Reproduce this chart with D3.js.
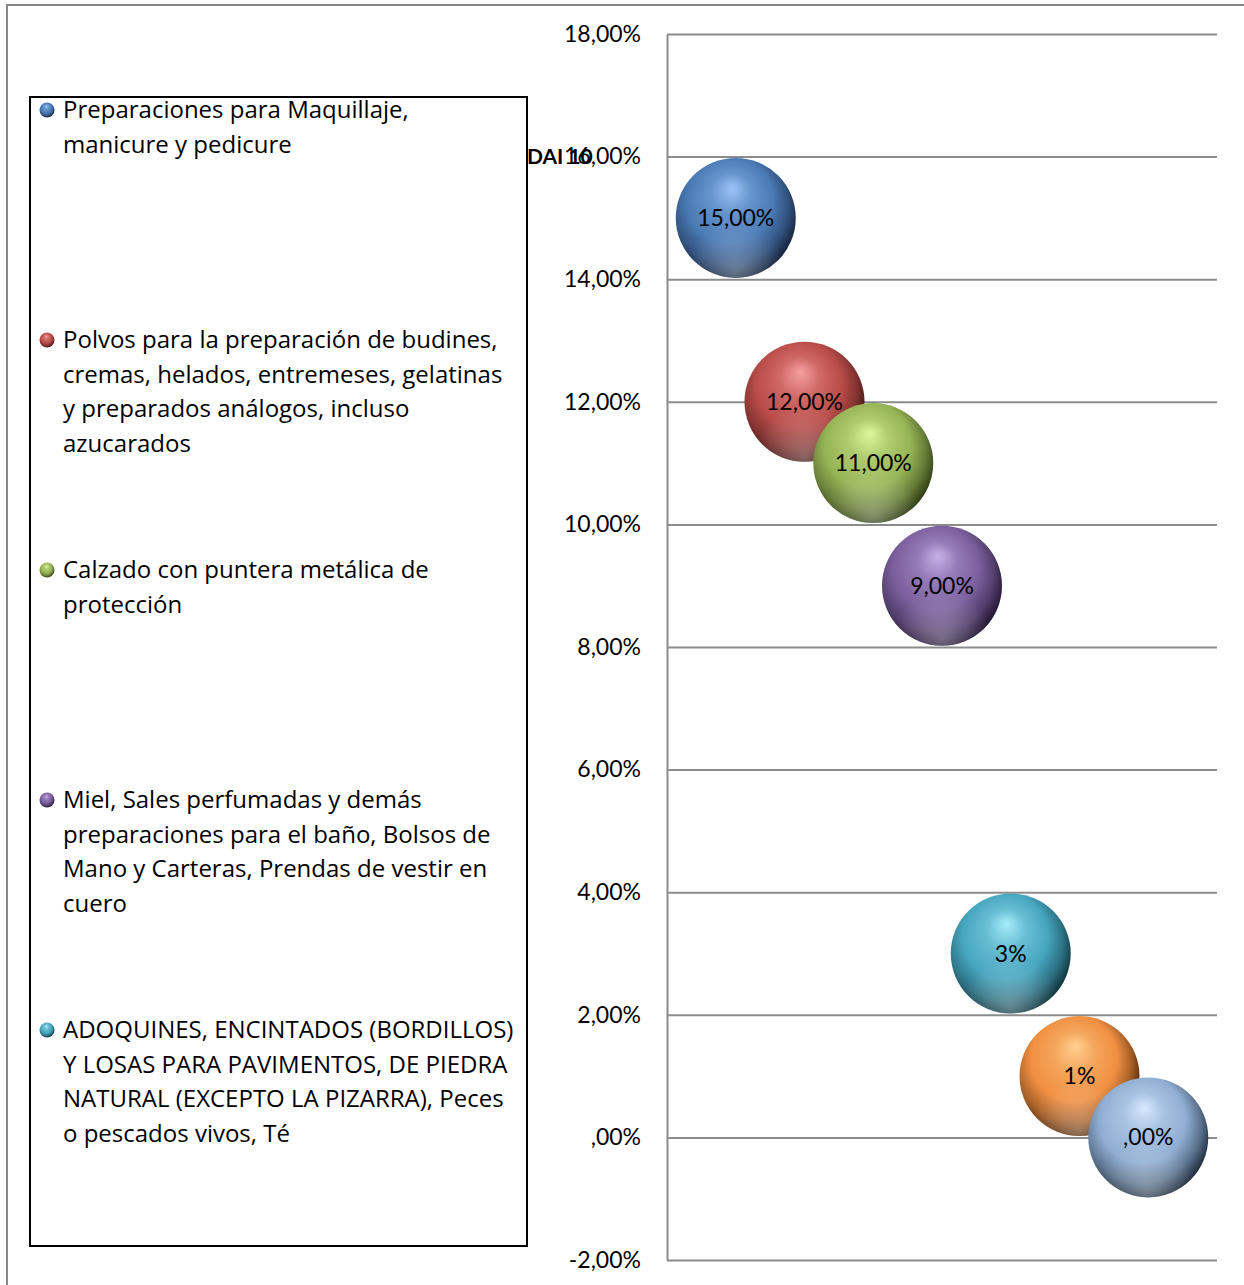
<!DOCTYPE html>
<html>
<head>
<meta charset="utf-8">
<script src="https://cdn.jsdelivr.net/npm/d3@7"></script>
<style>
  html, body { margin: 0; padding: 0; background: #fff; }
  svg { display: block; }
</style>
</head>
<body>
<svg id="chart" width="1244" height="1285"></svg>
<script>
// Tariff rate per product group (bubble chart, equal-size bubbles)
const pointValues = [15, 12, 11, 9, 3, 1, 0];
const pointLabels = ["15,00%", "12,00%", "11,00%", "9,00%", "3%", "1%", ",00%"];
const pointSizes  = [1, 1, 1, 1, 1, 1, 1];

const seriesColors = [
  { base: "#4a7ab5", light: "#9cc4f7", dark: "#14223a" },
  { base: "#b94c49", light: "#f7a0a0", dark: "#3d1413" },
  { base: "#95b455", light: "#dcf79c", dark: "#2c3a12" },
  { base: "#7a5f9c", light: "#c6b0ea", dark: "#211531" },
  { base: "#46a5be", light: "#a6ecfb", dark: "#0e323b" },
  { base: "#f08f42", light: "#ffd090", dark: "#472305" },
  { base: "#90aed2", light: "#d6e8ff", dark: "#1d2a3b" }
];

const legendEntries = [
  ["Preparaciones para Maquillaje,", "manicure y pedicure"],
  ["Polvos para la preparación de budines,", "cremas, helados, entremeses, gelatinas", "y preparados análogos, incluso", "azucarados"],
  ["Calzado con puntera metálica de", "protección"],
  ["Miel, Sales perfumadas y demás", "preparaciones para el baño, Bolsos de", "Mano y Carteras, Prendas de vestir en", "cuero"],
  ["ADOQUINES, ENCINTADOS (BORDILLOS)", "Y LOSAS PARA PAVIMENTOS, DE PIEDRA", "NATURAL (EXCEPTO LA PIZARRA), Peces", "o pescados vivos, Té"]
];

const yTicks      = [-2, 0, 2, 4, 6, 8, 10, 12, 14, 16, 18];
const yTickLabels = ["-2,00%", ",00%", "2,00%", "4,00%", "6,00%", "8,00%", "10,00%", "12,00%", "14,00%", "16,00%", "18,00%"];
const axisTitle   = "DAI 10";

const numFont    = "Lato, 'Noto Sans', sans-serif";
const legendFont = "'Open Sans', 'Noto Sans', sans-serif";

const svg = d3.select("#chart");

// outer chart frame
svg.append("rect")
  .attr("x", 7).attr("y", 5).attr("width", 1260).attr("height", 1300)
  .attr("fill", "#fff").attr("stroke", "#878787").attr("stroke-width", 2);

const plot = { left: 667, right: 1217, top: 34, bottom: 1260 };

const x = d3.scaleLinear().domain([0, pointValues.length + 1]).range([plot.left, plot.right]);
const y = d3.scaleLinear().domain([-2, 18]).range([plot.bottom, plot.top]);
const r = d3.scaleSqrt().domain([0, d3.max(pointSizes)]).range([0, 60]);

// sphere gradients
const defs = svg.append("defs");
seriesColors.forEach((c, i) => {
  const g = defs.append("radialGradient")
    .attr("id", "sphere" + i)
    .attr("cx", "0.44").attr("cy", "0.42").attr("r", "0.60")
    .attr("fx", "0.47").attr("fy", "0.25");
  g.append("stop").attr("offset", "0%").attr("stop-color", c.light);
  g.append("stop").attr("offset", "28%").attr("stop-color", d3.interpolateRgb(c.light, c.base)(0.65));
  g.append("stop").attr("offset", "60%").attr("stop-color", c.base);
  g.append("stop").attr("offset", "82%").attr("stop-color", d3.interpolateRgb(c.base, c.dark)(0.45));
  g.append("stop").attr("offset", "100%").attr("stop-color", c.dark);
});
const rim = defs.append("radialGradient")
  .attr("id", "rimGlow").attr("cx", "0.5").attr("cy", "0.95").attr("r", "0.42");
rim.append("stop").attr("offset", "0%").attr("stop-color", "#fff").attr("stop-opacity", 0.3);
rim.append("stop").attr("offset", "100%").attr("stop-color", "#fff").attr("stop-opacity", 0);

// horizontal gridlines
svg.append("g")
  .attr("transform", `translate(${plot.left},0)`)
  .call(d3.axisRight(y).tickValues(yTicks).tickSize(plot.right - plot.left).tickFormat(""))
  .call(g => g.select(".domain").remove())
  .call(g => g.selectAll(".tick line").attr("stroke", "#8c8c8c").attr("stroke-width", 2));

// value axis
svg.append("g")
  .attr("transform", `translate(${plot.left},0)`)
  .call(d3.axisLeft(y).tickValues(yTicks).tickSize(0).tickPadding(26)
    .tickFormat(d => yTickLabels[yTicks.indexOf(d)]))
  .call(g => g.select(".domain").attr("stroke", "#8c8c8c").attr("stroke-width", 2))
  .call(g => g.selectAll(".tick text")
    .style("font-family", numFont)
    .style("font-size", "23px").attr("fill", "#000"));

// bubbles
const bubbles = svg.append("g").selectAll("g")
  .data(pointValues.map((v, i) => ({ v, i })))
  .join("g")
  .attr("transform", d => `translate(${x(d.i + 1)},${y(d.v)})`);
bubbles.append("circle")
  .attr("r", d => r(pointSizes[d.i]))
  .attr("fill", d => `url(#sphere${d.i})`);
bubbles.append("circle")
  .attr("r", d => r(pointSizes[d.i]))
  .attr("fill", "url(#rimGlow)");

// data labels
svg.append("g").selectAll("text")
  .data(pointValues.map((v, i) => ({ v, i })))
  .join("text")
  .attr("x", d => x(d.i + 1))
  .attr("y", d => y(d.v))
  .attr("dy", "0.35em")
  .attr("text-anchor", "middle")
  .style("font-family", numFont)
  .style("font-size", "23px")
  .attr("fill", "#000")
  .text(d => pointLabels[d.i]);

// legend
const legend = svg.append("g");
legend.append("rect")
  .attr("x", 30).attr("y", 97).attr("width", 497).attr("height", 1149)
  .attr("fill", "#fff").attr("stroke", "#000").attr("stroke-width", 2);

const entryY = d3.scalePoint().domain(d3.range(legendEntries.length)).range([110, 1030]);
const lineH = 34.4;
legendEntries.forEach((lines, i) => {
  const g = legend.append("g").attr("transform", `translate(0,${entryY(i)})`);
  g.append("circle").attr("cx", 47).attr("cy", 0).attr("r", 7.5)
    .attr("fill", `url(#sphere${i})`);
  g.append("text")
    .attr("x", 63).attr("y", 0)
    .style("font-family", legendFont)
    .style("font-size", "24px").attr("fill", "#000")
    .selectAll("tspan").data(lines).join("tspan")
    .attr("x", 63)
    .attr("y", (d, j) => j * lineH)
    .attr("dy", "0.35em")
    .text(d => d);
});

// clipped value-axis title
svg.append("text")
  .attr("x", 527).attr("y", y(16))
  .attr("dy", "0.35em")
  .style("font-family", numFont)
  .style("font-size", "21px").style("font-weight", "bold").attr("fill", "#000")
  .text(axisTitle);
</script>
</body>
</html>
